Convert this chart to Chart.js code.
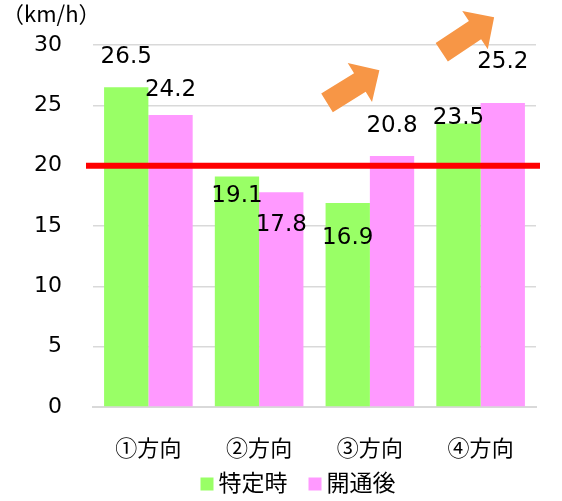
<!DOCTYPE html>
<html><head><meta charset="utf-8">
<script src="https://cdn.jsdelivr.net/npm/chart.js@4"></script>
<style>html,body{margin:0;padding:0;background:#fff}</style>
</head><body>
<canvas id="c" width="562" height="501"></canvas>
<script>
// ---- data ----
const categories = ['①方向', '②方向', '③方向', '④方向'];
const seriesNames = ['特定時', '開通後'];
const tokuteiValues = [26.5, 19.1, 16.9, 23.5];
const kaitsuuValues = [24.2, 17.8, 20.8, 25.2];
const yTickStep = 5;
const yMin = 0;
const yMax = 30;
const referenceValue = 20;
const unitLabel = '（km/h）';

// ---- styles ----
const colors = ['#99FF66', '#FF99FF'];
const latinFont = '"DejaVu Sans", "Noto Sans CJK JP", sans-serif';
const cjkFont = '"Noto Sans CJK JP", "DejaVu Sans", sans-serif';
// label vertical offsets (px) relative to the top of each bar
const labelOffsets = [[-30, 20, 35, -5], [-25, 33, -30, -41]];
// trend arrows: from/to in (category position, value)
const arrows = [
  { from: [1.613, 25.2], to: [2.086, 27.9] },
  { from: [2.649, 29.4], to: [3.122, 32.3] }
];

function catPixel(chart, pos) {
  const a = chart.chartArea;
  const w = (a.right - a.left) / categories.length;
  return a.left + (pos + 0.5) * w;
}

function drawArrow(ctx, x0, y0, x1, y1, shaftW, headW, headL) {
  const dx = x1 - x0, dy = y1 - y0;
  const len = Math.hypot(dx, dy);
  const ux = dx / len, uy = dy / len;
  const nx = -uy, ny = ux;
  const bx = x1 - ux * headL, by = y1 - uy * headL;
  ctx.beginPath();
  ctx.moveTo(x0 + nx * shaftW / 2, y0 + ny * shaftW / 2);
  ctx.lineTo(bx + nx * shaftW / 2, by + ny * shaftW / 2);
  ctx.lineTo(bx + nx * headW / 2, by + ny * headW / 2);
  ctx.lineTo(x1, y1);
  ctx.lineTo(bx - nx * headW / 2, by - ny * headW / 2);
  ctx.lineTo(bx - nx * shaftW / 2, by - ny * shaftW / 2);
  ctx.lineTo(x0 - nx * shaftW / 2, y0 - ny * shaftW / 2);
  ctx.closePath();
  ctx.fill();
}

const decorPlugin = {
  id: 'decor',
  afterDatasetsDraw(chart) {
    const ctx = chart.ctx;
    const a = chart.chartArea;
    const ys = chart.scales.y;
    ctx.save();
    // reference line
    const ry = ys.getPixelForValue(referenceValue);
    ctx.strokeStyle = '#FF0000';
    ctx.lineWidth = 6;
    ctx.beginPath();
    ctx.moveTo(a.left - 7, ry);
    ctx.lineTo(a.right + 4, ry);
    ctx.stroke();

    // data labels
    ctx.fillStyle = '#000';
    ctx.font = '23px ' + latinFont;
    ctx.textAlign = 'center';
    ctx.textBaseline = 'middle';
    chart.data.datasets.forEach((ds, di) => {
      const meta = chart.getDatasetMeta(di);
      meta.data.forEach((bar, i) => {
        ctx.fillText(ds.data[i].toFixed(1), bar.x, bar.y + labelOffsets[di][i]);
      });
    });

    // arrows
    ctx.fillStyle = '#F79646';
    arrows.forEach(ar => {
      drawArrow(ctx,
        catPixel(chart, ar.from[0]), ys.getPixelForValue(ar.from[1]),
        catPixel(chart, ar.to[0]), ys.getPixelForValue(ar.to[1]),
        22, 46, 23);
    });

    // unit label
    ctx.fillStyle = '#000';
    ctx.font = '22px ' + cjkFont;
    ctx.textAlign = 'left';
    ctx.textBaseline = 'middle';
    ctx.fillText(unitLabel, 2, 14);

    // legend
    ctx.font = '23px ' + cjkFont;
    const box = 13, gap = 5, itemGap = 21;
    const widths = chart.data.datasets.map(ds => box + gap + ctx.measureText(ds.label).width);
    const total = widths.reduce((s, w) => s + w, 0) + itemGap * (widths.length - 1);
    let x = chart.width / 2 + 17 - total / 2;
    const ly = 483;
    chart.data.datasets.forEach((ds, di) => {
      ctx.fillStyle = ds.backgroundColor;
      ctx.fillRect(x, ly - box / 2 + 1, box, box);
      ctx.fillStyle = '#000';
      ctx.fillText(ds.label, x + box + gap, ly - 1);
      x += widths[di] + itemGap;
    });
    ctx.restore();
  }
};

new Chart(document.getElementById('c'), {
  type: 'bar',
  data: {
    labels: categories,
    datasets: [
      { label: seriesNames[0], data: tokuteiValues, backgroundColor: colors[0] },
      { label: seriesNames[1], data: kaitsuuValues, backgroundColor: colors[1] }
    ]
  },
  options: {
    responsive: false,
    animation: false,
    devicePixelRatio: 1,
    layout: { padding: { left: 0, right: 26, top: 45, bottom: 40 } },
    datasets: { bar: { categoryPercentage: 0.8, barPercentage: 1.0, borderWidth: 0 } },
    plugins: { legend: { display: false }, tooltip: { enabled: false } },
    scales: {
      x: {
        grid: { display: false, drawTicks: false },
        border: { display: true, color: '#d9d9d9', width: 2 },
        ticks: { font: { size: 22, family: cjkFont }, color: '#000', padding: 27 },
        afterFit(s) { s.height = 54; }
      },
      y: {
        min: yMin, max: yMax,
        ticks: { stepSize: yTickStep, font: { size: 22, family: latinFont }, color: '#000', padding: 31 },
        grid: { color: '#d9d9d9', lineWidth: 1.5, drawTicks: false },
        border: { display: false },
        afterFit(s) { s.width = 93; }
      }
    }
  },
  plugins: [decorPlugin]
});
</script>
</body></html>
